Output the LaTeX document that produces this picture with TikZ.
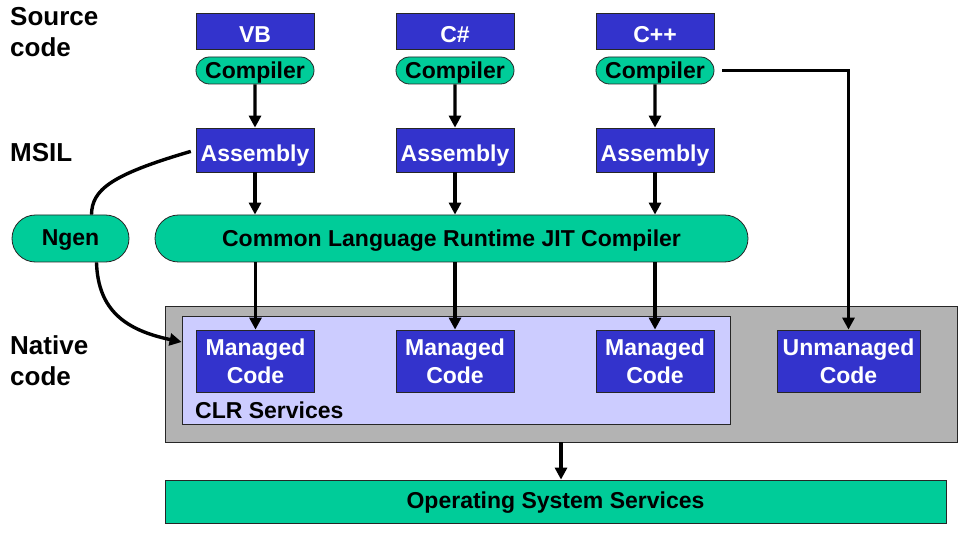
\documentclass[tikz,border=0pt]{standalone}
\usepackage{fontspec}
\setmainfont{Liberation Sans}
\usepackage{tikz}
\usetikzlibrary{
    arrows.meta,
    positioning,
    shapes.misc
}
\definecolor{msblue}{RGB}{51,51,204}
\definecolor{msgreen}{RGB}{0,204,153}
\definecolor{mslavender}{RGB}{204,204,255}
\definecolor{msgray}{RGB}{179,179,179}

\begin{document}
\begin{tikzpicture}[
    x=1pt, y=-1pt,
    boxfont/.style={font=\fontsize{23}{27}\selectfont\bfseries},
    oneline/.style={text height=#1, text depth=0pt},
    oneline/.default=22.5pt,
    twoline/.style={align=center, minimum height=62pt},
    sidetext/.style={
        font=\fontsize{26}{31}\selectfont\bfseries,
        align=left,
        anchor=west,
        inner sep=0pt
    },
    bluebox/.style={
        draw=black!85,
        line width=0.8pt,
        fill=msblue,
        text=white,
        boxfont,
        inner sep=0pt,
        minimum width=118pt
    },
    pill/.style={
        draw=black!85,
        line width=0.8pt,
        fill=msgreen,
        rounded rectangle,
        boxfont,
        oneline=16.5pt,
        inner sep=0pt
    },
    layer/.style={
        draw=black!85,
        line width=0.8pt,
        inner sep=0pt
    },
    link/.style={
        line width=3.4pt,
        -{Triangle[length=12pt,width=12pt]}
    }
]

\path[use as bounding box, fill=white] (0,0) rectangle (968,534);

% side labels
\node[sidetext] (lsrc) at (10,32) {Source\\code};
\node[sidetext] (lmsil) at (10,153) {MSIL};
\node[sidetext] (lnat) at (10,361) {Native\\code};

% native code area
\node[layer, fill=msgray, minimum width=792pt, minimum height=136pt] (native) at (561,374) {};
\node[layer, fill=mslavender, minimum width=548pt, minimum height=108pt] (clrsvc) at (456,370) {};
\node[boxfont, anchor=west, inner sep=0pt] (clrtext) at (195,410) {CLR Services};

% source languages
\node[bluebox, oneline, minimum height=36pt] (src-vb) at (255,31) {VB};
\node[bluebox, oneline, minimum height=36pt] (src-cs) at (455,31) {C\#};
\node[bluebox, oneline, minimum height=36pt] (src-cpp) at (655,31) {C++};

\node[pill, minimum width=118pt, minimum height=27pt] (comp-vb) at (255,70.5) {Compiler};
\node[pill, minimum width=118pt, minimum height=27pt] (comp-cs) at (455,70.5) {Compiler};
\node[pill, minimum width=118pt, minimum height=27pt] (comp-cpp) at (655,70.5) {Compiler};

\node[bluebox, oneline, minimum height=44pt] (asm-vb) at (255,150) {Assembly};
\node[bluebox, oneline, minimum height=44pt] (asm-cs) at (455,150) {Assembly};
\node[bluebox, oneline, minimum height=44pt] (asm-cpp) at (655,150) {Assembly};

\node[pill, minimum width=593pt, minimum height=47pt] (jit) at (451.5,238.5) {Common Language Runtime JIT Compiler};
\node[pill, minimum width=117pt, minimum height=47pt, oneline=14pt] (ngen) at (70.5,238.5) {Ngen};

\node[bluebox, twoline] (nat-vb) at (255.5,361) {Managed\\[1pt]Code};
\node[bluebox, twoline] (nat-cs) at (455,361) {Managed\\[1pt]Code};
\node[bluebox, twoline] (nat-cpp) at (655,361) {Managed\\[1pt]Code};
\node[bluebox, twoline, minimum width=143pt] (unman) at (848.5,361) {Unmanaged\\[1pt]Code};

\node[layer, fill=msgreen, boxfont, oneline=14pt, minimum width=781pt, minimum height=43pt] (os) at (555.5,501.5) {Operating System Services};

% connectors
\foreach \lang in {vb, cs, cpp} {
    \draw[link] (comp-\lang) -- (asm-\lang);
    \draw[link] (asm-\lang) -- (asm-\lang |- jit.north);
    \draw[link] (jit.south -| nat-\lang) -- (nat-\lang);
}
\draw[link, shorten <=8pt] (comp-cpp.east) -| (unman.north);
\draw[link] (native.south) -- (native.south |- os.north);

\draw[line width=3.4pt, shorten <=5pt] (asm-vb.west) .. controls (110,175) and (92,190) .. ([xshift=21pt]ngen.north);
\draw[link] ([xshift=26pt]ngen.south) .. controls (98,310) and (125,330) .. ([yshift=28pt]clrsvc.west);

\end{tikzpicture}
\end{document}
